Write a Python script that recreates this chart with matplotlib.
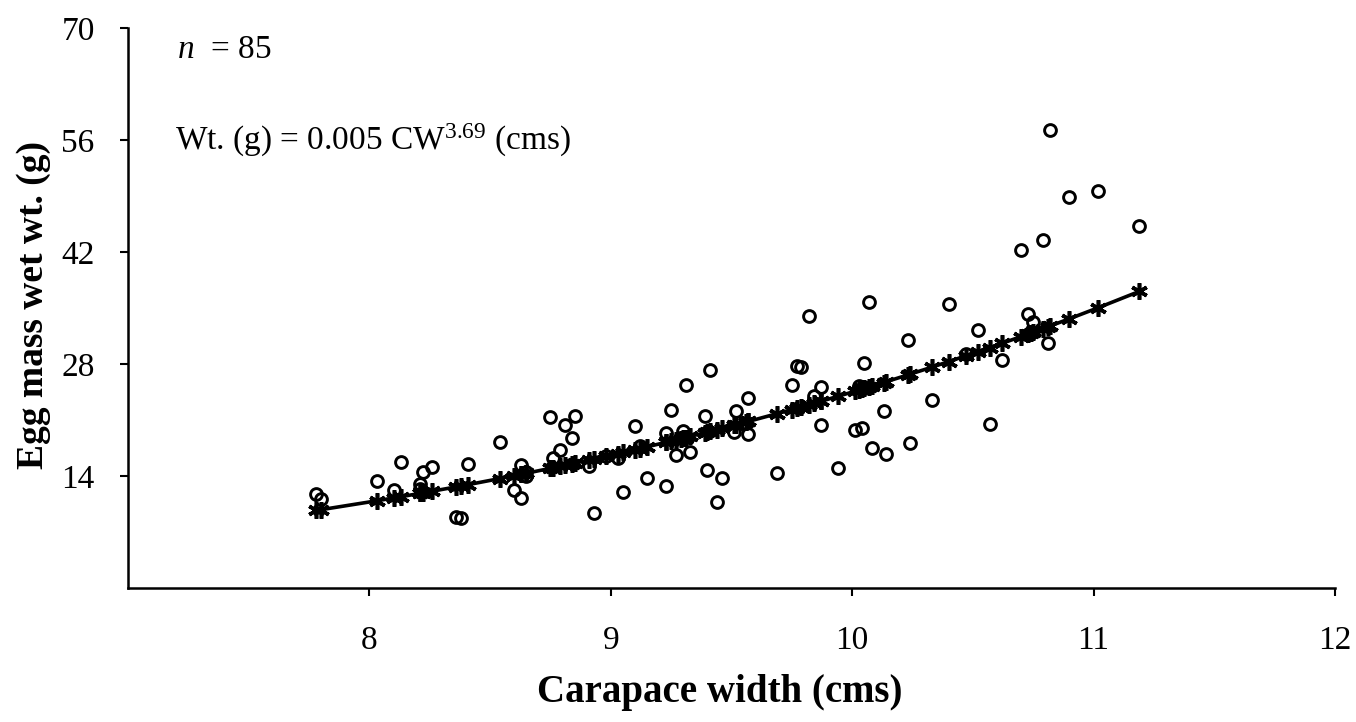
import numpy as np
import matplotlib
matplotlib.use("Agg")
from matplotlib import pyplot as plt

plt.rcParams["font.family"] = ["Liberation Serif", "DejaVu Serif"]
plt.rcParams["mathtext.fontset"] = "custom"
plt.rcParams["mathtext.rm"] = "Liberation Serif"
plt.rcParams["mathtext.it"] = "Liberation Serif:italic"

# carapace width (cm) and egg mass wet weight (g) per crab
carapace_width = [
    7.78, 7.80, 8.03, 8.10, 8.13, 8.22, 8.26, 8.21, 8.21, 8.36,
    8.38, 8.41, 8.54, 8.63, 8.60, 8.63, 8.65, 8.75, 8.81, 8.85,
    8.84, 8.79, 8.76, 8.91, 8.93, 9.03, 9.05, 9.10, 9.15, 9.23,
    9.25, 9.23, 9.31, 9.41, 9.27, 9.33, 9.30, 9.39, 9.40, 9.46,
    9.44, 9.52, 9.51, 9.57, 9.57, 9.82, 10.07, 10.40, 10.52, 10.23,
    9.77, 9.79, 9.75, 10.05, 9.87, 9.87, 9.69, 9.94, 10.01, 10.04,
    10.13, 10.08, 10.14, 10.24, 10.33, 10.70, 10.79, 10.62, 10.57, 10.73,
    10.75, 10.81, 10.82, 10.90, 11.02, 11.19, 8.65, 8.98, 9.12, 9.29,
    9.56, 9.84, 10.03, 10.47, 10.74,
]
egg_mass = [
    11.8, 11.1, 13.4, 12.3, 15.7, 14.5, 15.1, 13.0, 12.4, 8.9,
    8.8, 15.5, 18.2, 15.4, 12.25, 11.2, 14.5, 21.4, 20.4, 21.5,
    18.7, 17.25, 16.3, 15.2, 9.4, 16.2, 12.0, 20.3, 13.7, 12.8,
    22.25, 19.4, 25.4, 27.25, 16.6, 17.0, 19.6, 21.5, 14.8, 13.7,
    10.7, 22.1, 19.5, 23.8, 19.3, 34.0, 35.8, 35.5, 32.25, 31.0,
    27.7, 27.6, 25.4, 28.1, 25.1, 20.4, 14.4, 15.0, 19.75, 20.0,
    22.1, 17.5, 16.75, 18.1, 23.5, 42.25, 43.5, 28.5, 20.5, 34.25,
    33.3, 30.6, 57.3, 48.9, 49.6, 45.25, 14.0, 16.5, 17.8, 18.8,
    20.6, 24.0, 25.3, 29.3, 32.0,
]

# power curve Wt = a * CW^b
fit_a = 0.005
fit_b = 3.69

x_ticks = [8, 9, 10, 11, 12]
y_ticks = [14, 28, 42, 56, 70]

cw = np.array(carapace_width)
order = np.argsort(cw)
cw_sorted = cw[order]
fitted = fit_a * cw_sorted ** fit_b

fig = plt.figure(figsize=(13.56, 7.22), dpi=100)
ax = fig.add_axes([0.0944, 0.1856, 0.8901, 0.7756])

ax.plot(cw_sorted, fitted, color="black", linewidth=2.6,
        marker=(6, 2, 0), markersize=12, markeredgewidth=2.6, zorder=2)
ax.plot(carapace_width, egg_mass, linestyle="none", marker="o",
        markersize=8.5, markerfacecolor="none", markeredgecolor="black",
        markeredgewidth=2.1, zorder=3)

ax.set_xlim(7, 12)
ax.set_ylim(0, 70)
ax.set_xticks(x_ticks)
ax.set_yticks(y_ticks)
ax.spines["top"].set_visible(False)
ax.spines["right"].set_visible(False)
for side in ("left", "bottom"):
    ax.spines[side].set_linewidth(1.8)
ax.tick_params(axis="both", direction="out", length=6, width=1.5,
               labelsize=24)
ax.tick_params(axis="x", pad=21)
ax.tick_params(axis="y", pad=18)

ax.set_xlabel("Carapace width (cms)", fontsize=28, fontweight="bold")
ax.set_ylabel("Egg mass wet wt. (g)", fontsize=27, fontweight="bold")
ax.xaxis.set_label_coords(0.49, -0.153)
ax.yaxis.set_label_coords(-0.064, 0.505)

ax.text(0.041, 0.961, r"$n$  = 85", transform=ax.transAxes, fontsize=24,
        va="center", ha="left")
ax.text(0.039, 0.80, r"Wt. (g) = 0.005 CW$^{3.69}$ (cms)",
        transform=ax.transAxes, fontsize=24, va="center", ha="left")

fig.savefig("out.png", dpi=100)
plt.close(fig)
